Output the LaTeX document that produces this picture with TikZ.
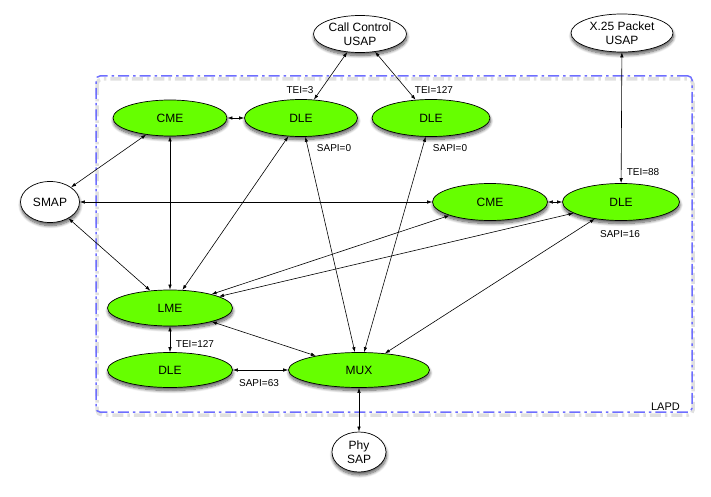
\documentclass[tikz,border=0pt]{standalone}
\usepackage{fontspec}
\setmainfont{Liberation Sans}
\usetikzlibrary{shapes.geometric,arrows.meta,shadows.blur}

\definecolor{entgreen}{RGB}{102,255,0}
\definecolor{lapdblue}{RGB}{110,110,255}

\begin{document}
\begin{tikzpicture}[x=1pt,y=-1pt,
  every node/.style={font=\fontsize{12}{13.5}\selectfont},
  blob/.style={ellipse, draw=black, line width=0.7pt, inner sep=0pt, align=center,
    blur shadow={shadow xshift=0.5pt, shadow yshift=-3pt, shadow blur radius=3pt,
      shadow blur steps=10, shadow opacity=65}},
  entity/.style={blob, fill=entgreen},
  sap/.style={blob, fill=white},
  tag/.style={font=\fontsize{10}{11}\selectfont, inner sep=0pt},
  link/.style={{Latex[length=5pt,width=3.5pt]}-{Latex[length=5pt,width=3.5pt]}, line width=0.6pt},
  boxdash/.style={dash pattern=on 11pt off 4pt on 2.5pt off 4pt},
  lapdbox/.style={draw=lapdblue, line width=1.5pt, boxdash, rounded corners=4pt, inner sep=0pt},
  boxshade/.style={draw=black, opacity=0.12, line width=3.5pt, boxdash, rounded corners=5pt}
]
\useasboundingbox (0,0) rectangle (711,497);

% LAPD container with its soft shadow
\coordinate (shadenw) at (97,79);
\coordinate (shadese) at (693,415);
\draw[boxshade] (shadenw) rectangle (shadese);
\node[lapdbox, minimum width=596pt, minimum height=336pt] (lapd) at (394,244) {};
\node[font=\fontsize{11}{12}\selectfont, anchor=base east, inner sep=0pt] (lapdlabel) at (680,410) {LAPD};

% service access points
\node[sap, minimum width=93pt, minimum height=37pt] (cc) at (360,34) {Call Control\\USAP};
\node[sap, minimum width=102pt, minimum height=38pt] (x25) at (622,33) {X.25 Packet\\USAP};
\node[sap, minimum width=59pt, minimum height=41pt] (smap) at (50,202) {SMAP};
\node[sap, minimum width=54pt, minimum height=40pt] (phy) at (359,452) {Phy\\SAP};

% LAPD entities
\node[entity, minimum width=114pt, minimum height=36pt] (cme1) at (170,118) {CME};
\node[entity, minimum width=113pt, minimum height=37pt] (dle1) at (301,118) {DLE};
\node[entity, minimum width=118pt, minimum height=37pt] (dle2) at (431,118) {DLE};
\node[entity, minimum width=115pt, minimum height=37pt] (cme2) at (490,202) {CME};
\node[entity, minimum width=117pt, minimum height=37pt] (dle3) at (621,202) {DLE};
\node[entity, minimum width=125pt, minimum height=36pt] (lme) at (170,308) {LME};
\node[entity, minimum width=125pt, minimum height=35pt] (dle4) at (170,370) {DLE};
\node[entity, minimum width=141pt, minimum height=35pt] (mux) at (359,370) {MUX};

% connections
\draw[link] (cc) -- (dle1);
\draw[link] (cc) -- (dle2);
\draw[link] (x25) -- (dle3);
\draw[link] (cme1) -- (dle1);
\draw[link] (cme1) -- (smap);
\draw[link] (cme1) -- (lme);
\draw[link] (dle1) -- (lme);
\draw[link] (dle1) -- (mux);
\draw[link] (dle2) -- (mux);
\draw[link] (smap) -- (cme2);
\draw[link] (cme2) -- (dle3);
\draw[link] (smap) -- (lme);
\draw[link] (cme2) -- (lme);
\draw[link] (dle3) -- (lme);
\draw[link] (dle3) -- (mux);
\draw[link] (lme) -- (mux);
\draw[link] (lme) -- (dle4);
\draw[link] (dle4) -- (mux);
\draw[link] (mux) -- (phy);

% identifiers
\node[tag] (t1) at (300,90) {TEI=3};
\node[tag] (t2) at (434,90) {TEI=127};
\node[tag] (s1) at (334,148) {SAPI=0};
\node[tag] (s2) at (450,148) {SAPI=0};
\node[tag] (t3) at (643,172) {TEI=88};
\node[tag] (s3) at (620,234) {SAPI=16};
\node[tag] (t4) at (195,344) {TEI=127};
\node[tag] (s4) at (259,383) {SAPI=63};
\end{tikzpicture}
\end{document}
